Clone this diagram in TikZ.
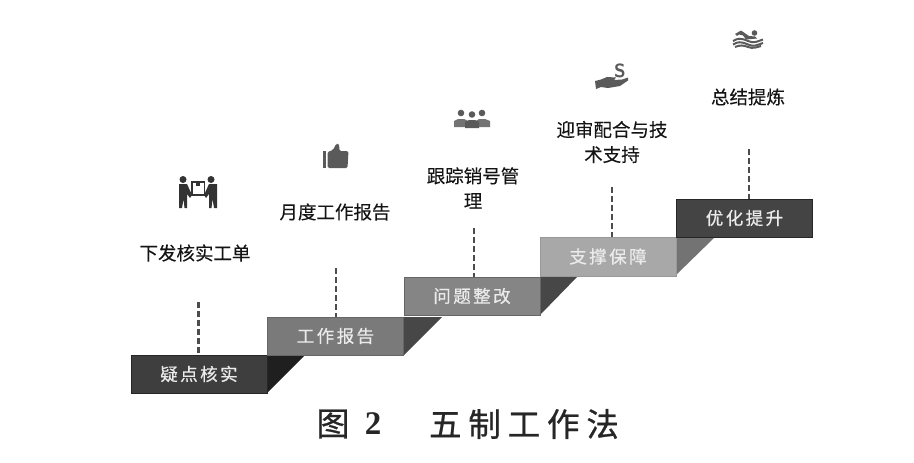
\documentclass[tikz,border=0pt]{standalone}
\usepackage{fontspec}
\setmainfont{Liberation Serif}
\newfontfamily\cjk[FakeBold=0.15]{Noto Sans CJK SC}
\newfontfamily\cjkbox[LetterSpace=14,FakeBold=0.5]{Noto Sans CJK SC}
\newfontfamily\cjkcap[LetterSpace=21,FakeBold=0.8]{Noto Sans CJK SC}
\definecolor{StepA}{HTML}{3E3E3E}
\definecolor{StepB}{HTML}{7A7A7A}
\definecolor{StepC}{HTML}{858585}
\definecolor{StepD}{HTML}{A8A8A8}
\definecolor{StepE}{HTML}{444444}
\definecolor{IconGray}{HTML}{5A5A5A}
\tikzset{
  stepbox/.style={minimum width=136pt, minimum height=38.5pt, inner sep=0pt, text=white!92!black, font=\fontsize{17.5}{20}\cjkbox},
  worktext/.style={inner sep=0pt, align=center, text=black!92, font=\fontsize{18.5}{25}\cjk},
  captext/.style={inner sep=0pt, text=black!85},
  stem/.style={draw=black!70, dash pattern=on 6pt off 3pt},
  icon/.style={fill=IconGray, draw=none}
}
\begin{document}
\begin{tikzpicture}[x=1pt, y=-1pt]
\useasboundingbox (0,0) rectangle (914,463);

% folds between steps
\fill[black!88] (267,355) -- (305,355) -- (267,393) -- cycle;
\fill[black!72] (404,317) -- (442,317) -- (404,355) -- cycle;
\fill[black!72] (540,276) -- (578,276) -- (540,315) -- cycle;
\fill[black!55] (676,238) -- (714,238) -- (676,275) -- cycle;

\node[stepbox, fill=StepA, draw=black!85] (S1N0) at (199,374) {疑点核实};
\node[stepbox, fill=StepB, draw=black!60] (S2N0) at (335.5,336) {工作报告};
\node[stepbox, fill=StepC, draw=black!60] (S3N0) at (472,296) {问题整改};
\node[stepbox, fill=StepD, draw=black!40] (S4N0) at (608,256.5) {支撑保障};
\node[stepbox, fill=StepE, draw=black!85] (S5N0) at (744.5,218) {优化提升};

\node[worktext] (S1N1) at (195,253) {下发核实工单};
\node[worktext] (S2N1) at (335,212) {月度工作报告};
\node[worktext] (S3N1) at (473,188) {跟踪销号管\\理};
\node[worktext] (S4N1) at (612,142) {迎审配合与技\\术支持};
\node[worktext] (S5N1) at (748,97) {总结提炼};

\coordinate (S1N2) at (198,302);
\coordinate (S2N2) at (336,268);
\coordinate (S3N2) at (474,228);
\coordinate (S4N2) at (612,187);
\coordinate (S5N2) at (749,149);

\draw[stem, line width=3pt] (S1N2) -- (S1N2 |- S1N0.north);
\draw[stem, line width=1.2pt] (S2N2) -- (S2N2 |- S2N0.north);
\draw[stem, line width=2pt] (S3N2) -- (S3N2 |- S3N0.north);
\draw[stem, line width=1.8pt] (S4N2) -- (S4N2 |- S4N0.north);
\draw[stem, line width=2.4pt] (S5N2) -- (S5N2 |- S5N0.north);

% two people with a box
\fill[black!80] (183,179.5) circle (3.5) (211,179.5) circle (3.5);
\fill[black!80] (179,184) -- (187,184) -- (192,195) -- (190,198) -- (187,194) -- (187,208) -- (184.5,208) -- (183.5,199) -- (182,208) -- (179,208) -- cycle;
\fill[black!80] (217,184) -- (209,184) -- (204,195) -- (206,198) -- (209,194) -- (209,208) -- (211.5,208) -- (212.5,199) -- (214,208) -- (217,208) -- cycle;
\draw[black!80, line width=1.2pt] (192,182) rectangle (204.5,195);
\fill[black!80] (196,182) rectangle (200,186);

% thumb
\fill[icon] (323,151) rectangle (326,167.5);
\fill[icon, rounded corners=1.5pt] (327.5,152) -- (333,150) -- (336,144) -- (339,143.5) -- (339.5,151) -- (348.5,151) -- (347.5,168) -- (327.5,168) -- cycle;

% three people
\fill[icon] (461,113) circle (3.3) (482,113) circle (3.3);
\fill[black!55] (454,127) -- (454,121) -- (458,119) -- (464,119) -- (468,121) -- (468,127) -- cycle;
\fill[black!55] (476,127) -- (476,121) -- (479,119) -- (485,119) -- (490,121) -- (490,127) -- cycle;
\fill[icon] (472,114.5) circle (3.3);
\fill[icon] (465,128) -- (465,122) -- (469,120) -- (475,120) -- (479,122) -- (479,128) -- cycle;

% hand with coin
\node[inner sep=0pt, text=IconGray, font=\fontsize{19}{19}\selectfont\sffamily\bfseries] (S4N3) at (620,71) {S};
\fill[icon] (595,81) -- (601,79.5) -- (607,77) -- (616,77.5) -- (614,80) -- (622,79.5) -- (628,77.5) -- (628,80.5) -- (620,86) -- (608,88) -- (601,87) -- (596,89) -- cycle;

% swimmer and waves
\fill[icon] (754.5,33) circle (2.8);
\fill[icon] (735,34) -- (741,30.5) -- (749,36) -- (755,36.5) -- (757,38.5) -- (746,39.5) -- (743,35.5) -- (739,34.5) -- (737,36) -- cycle;
\draw[IconGray, line width=2pt] (733,41) .. controls (738,38) and (741,38) .. (748,41) .. controls (754,44) and (758,41) .. (763,39.5);
\draw[IconGray, line width=2pt] (733,44.5) .. controls (738,41.5) and (741,41.5) .. (748,44.5) .. controls (754,47.5) and (758,44.5) .. (763,43);
\draw[IconGray, line width=2pt] (735,47) .. controls (740,45) and (743,45) .. (748,47) .. controls (753,49) and (757,47) .. (761,46);

\node[captext, font=\fontsize{33}{36}\cjkcap] (CAP1) at (333,424) {图};
\node[captext, font=\fontsize{33}{36}\selectfont\bfseries] (CAP2) at (373,424) {2};
\node[captext, font=\fontsize{32.5}{36}\cjkcap] (CAP3) at (524,424) {五制工作法};
\end{tikzpicture}
\end{document}
